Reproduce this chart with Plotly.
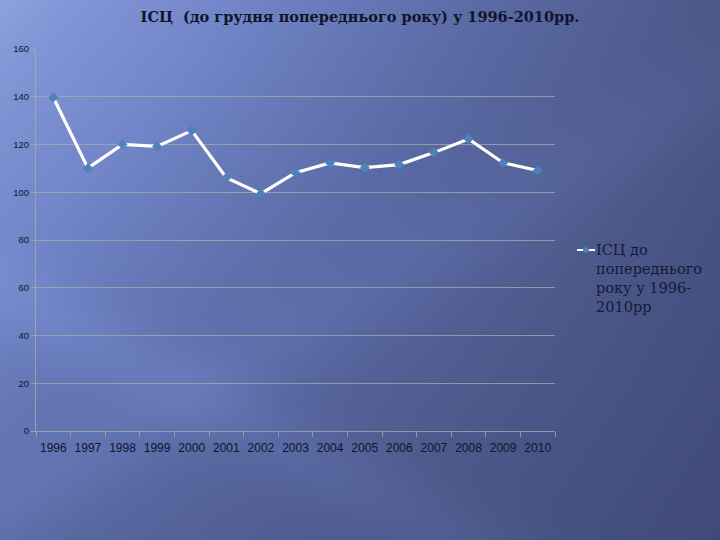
import numpy as np
import plotly.graph_objects as go

# ---- data ----
years = ["1996", "1997", "1998", "1999", "2000", "2001", "2002", "2003",
         "2004", "2005", "2006", "2007", "2008", "2009", "2010"]
cpi = [139.7, 110.1, 120.0, 119.2, 125.8, 106.1, 99.4, 108.2,
       112.3, 110.3, 111.6, 116.6, 122.3, 112.3, 109.1]
y_ticks = [0, 20, 40, 60, 80, 100, 120, 140, 160]
series_name = "ІСЦ до попереднього року у 1996-2010рр"
legend_lines = ["ІСЦ до", "попереднього", "року у 1996-", "2010рр"]
title_text = "ІСЦ  (до грудня попереднього року) у 1996-2010рр."

W, H = 720, 540

# ---- background gradient (full-canvas heatmap) ----
gx = np.linspace(0, 1, 49)
gy = np.linspace(0, 1, 37)          # 0 = bottom
XX, YY = np.meshgrid(gx, gy)
T = 1 - YY                           # 0 = top
d = 0.75 * XX + 0.5 * T - 0.3 * XX * T
d = np.clip(d, 0, 1) ** 0.75


def beam(x0, y0, x1, y1, w, s):
    px, py = XX * W, T * H
    vx, vy = x1 - x0, y1 - y0
    L = np.hypot(vx, vy)
    dist = np.abs((px - x0) * vy - (py - y0) * vx) / L
    return s * np.exp(-(dist / w) ** 2)


d = d - beam(0, 290, 330, 470, 40, 0.08) - beam(300, 330, 520, 200, 45, 0.06)
d = np.clip(d, 0, 1)

bg_scale = [
    [0.0, "#8ea2e1"],
    [0.35, "#7185c8"],
    [0.6, "#5a6aa4"],
    [0.8, "#4b5889"],
    [1.0, "#3d4776"],
]

fig = go.Figure()
fig.add_trace(go.Heatmap(
    x=gx, y=gy, z=d, colorscale=bg_scale, zmin=0, zmax=1, zsmooth="best",
    showscale=False, hoverinfo="skip", xaxis="x", yaxis="y"))

fig.add_trace(go.Scatter(
    x=years, y=cpi, mode="lines+markers", name=series_name,
    line=dict(color="white", width=3.2),
    marker=dict(symbol="diamond", size=7, color="#4f81bd",
                line=dict(color="#4f81bd", width=1)),
    xaxis="x2", yaxis="y2", showlegend=False))

grid_col = "rgba(165,172,178,0.75)"
x0d, x1d = 36 / W, 555 / W
y0d, y1d = (H - 431) / H, (H - 49) / H

fig.update_layout(
    width=W, height=H,
    margin=dict(l=0, r=0, t=0, b=0),
    paper_bgcolor="#4b5889",
    plot_bgcolor="rgba(0,0,0,0)",
    showlegend=False,
    xaxis=dict(domain=[0, 1], range=[0, 1], visible=False, fixedrange=True),
    yaxis=dict(domain=[0, 1], range=[0, 1], visible=False, fixedrange=True),
    xaxis2=dict(domain=[x0d, x1d], anchor="y2", type="category",
                range=[-0.5, len(years) - 0.5],
                showgrid=False, showline=True, linecolor=grid_col, linewidth=1,
                ticks="outside", tickson="boundaries", ticklen=5,
                tickcolor=grid_col, tickangle=0, ticklabelstandoff=6,
                tickfont=dict(family="Liberation Sans", size=12, color="#11142a"),
                automargin=False),
    yaxis2=dict(domain=[y0d, y1d], anchor="x2", range=[0, 160],
                tickvals=y_ticks, showgrid=True, gridcolor=grid_col, gridwidth=1,
                zeroline=False, showline=True, linecolor=grid_col, linewidth=1,
                ticks="outside", ticklen=4, tickcolor=grid_col,
                tickfont=dict(family="Liberation Sans", size=9.5, color="#11142a"),
                automargin=False),
    title=dict(text="<b>" + title_text + "</b>", x=0.5, xanchor="center",
               y=1 - 17 / H, yanchor="middle",
               font=dict(family="DejaVu Serif", size=14.5, color="#10152a")),
)

# ---- manual legend ----
ly = 1 - 250 / H
fig.add_shape(type="line", xref="paper", yref="paper",
              x0=577 / W, x1=595 / W, y0=ly, y1=ly,
              line=dict(color="white", width=2))
cx, cy, r = 586, 250, 3.5
fig.add_shape(type="path", xref="paper", yref="paper",
              path=f"M {(cx - r) / W},{1 - cy / H} L {cx / W},{1 - (cy - r) / H} "
                   f"L {(cx + r) / W},{1 - cy / H} L {cx / W},{1 - (cy + r) / H} Z",
              fillcolor="#4f81bd", line=dict(color="#4f81bd", width=0))
fig.add_annotation(xref="paper", yref="paper", x=594 / W, y=1 - 240 / H,
                   xanchor="left", yanchor="top", align="left", showarrow=False,
                   text="<br>".join(legend_lines),
                   font=dict(family="DejaVu Serif", size=14.5, color="#141a36"))

fig.write_html("out.html", config={"displayModeBar": False},
               post_script="document.body.style.margin='0';"
                           "document.body.style.overflow='hidden';")
